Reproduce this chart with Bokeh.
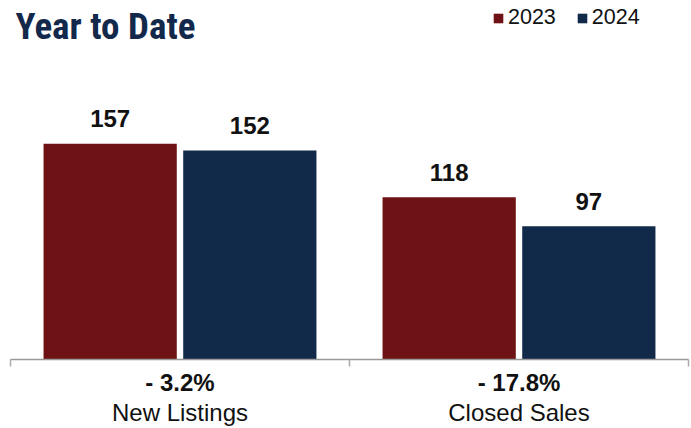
from bokeh.plotting import figure
from bokeh.models import (ColumnDataSource, Range1d, LinearAxis, FixedTicker, Label)
from bokeh.transform import dodge
from bokeh.embed import file_html
from bokeh.resources import INLINE
from bokeh.core.properties import value

# ---- data ----
categories = ["New Listings", "Closed Sales"]
years = ["2023", "2024"]
values_2023 = [157, 118]
values_2024 = [152, 97]
changes = ["- 3.2%", "- 17.8%"]

RED = "#6E1215"
NAVY = "#112A4A"
FONT = "Liberation Sans"
TITLE_FONT = "'Liberation Sans Narrow', 'Roboto Condensed', 'DejaVu Sans Condensed', 'Open Sans Condensed', Roboto, sans-serif"

xpos = [i + 0.5 for i in range(len(categories))]
src = ColumnDataSource(dict(
    x=xpos,
    v2023=values_2023,
    v2024=values_2024,
    t2023=[str(v) for v in values_2023],
    t2024=[str(v) for v in values_2024],
))

p = figure(width=691, height=428, output_backend="svg", toolbar_location=None,
           x_range=Range1d(0, len(categories)), y_range=Range1d(0, 261.2),
           x_axis_location=None, y_axis_location=None,
           min_border_left=10, min_border_right=3, min_border_top=0, min_border_bottom=0)
p.outline_line_color = None
p.xgrid.visible = False
p.ygrid.visible = False
p.background_fill_color = "white"

bw = 0.393
off = 0.206
p.vbar(x=dodge("x", -off), top="v2023", width=bw, source=src, fill_color=RED,
       line_color=None, legend_label=years[0])
p.vbar(x=dodge("x", off), top="v2024", width=bw, source=src, fill_color=NAVY,
       line_color=None, legend_label=years[1])

for col, tcol, dx in (("v2023", "t2023", -off), ("v2024", "t2024", off)):
    p.text(x=dodge("x", dx), y=col, text=tcol, source=src, text_align="center",
           text_baseline="alphabetic", y_offset=-25, text_font=value(FONT),
           text_font_style="bold", text_font_size="24px", text_color="#111111")

# axis with boundary ticks and percent change labels
ax1 = LinearAxis(ticker=FixedTicker(ticks=xpos, minor_ticks=list(range(len(categories) + 1))),
                 major_label_overrides={x: c for x, c in zip(xpos, changes)})
ax1.axis_line_color = "#999999"
ax1.axis_line_width = 1.5
ax1.major_tick_out = 0
ax1.major_tick_in = 0
ax1.minor_tick_out = 7
ax1.minor_tick_in = 0
ax1.minor_tick_line_color = "#aaaaaa"
ax1.minor_tick_line_width = 1.5
ax1.major_label_text_font = FONT
ax1.major_label_text_font_style = "bold"
ax1.major_label_text_font_size = "24px"
ax1.major_label_text_color = "#111111"
ax1.major_label_standoff = 2
p.add_layout(ax1, "below")

ax2 = LinearAxis(ticker=FixedTicker(ticks=xpos, minor_ticks=[]),
                 major_label_overrides={x: c for x, c in zip(xpos, categories)})
ax2.axis_line_color = None
ax2.major_tick_line_color = None
ax2.minor_tick_line_color = None
ax2.major_tick_out = 0
ax2.major_tick_in = 0
ax2.major_label_text_font = FONT
ax2.major_label_text_font_size = "24px"
ax2.major_label_text_color = "#111111"
ax2.major_label_standoff = 0
p.add_layout(ax2, "below")

title = Label(x=5, y=333, x_units="screen", y_units="screen", text="Year to Date",
              text_font=TITLE_FONT, text_font_style="bold",
              text_font_size="37px", text_color="#13294B", text_baseline="alphabetic")
p.add_layout(title)

lg = p.legend[0]
lg.orientation = "horizontal"
lg.location = (482, 329)
lg.border_line_color = None
lg.background_fill_alpha = 0
lg.padding = 0
lg.margin = 0
lg.spacing = 20
lg.glyph_width = 12
lg.glyph_height = 12
lg.label_standoff = 4
lg.label_text_font = FONT
lg.label_text_font_size = "21.5px"
lg.label_text_color = "#111111"

open("out.html", "w").write(file_html(p, INLINE))
